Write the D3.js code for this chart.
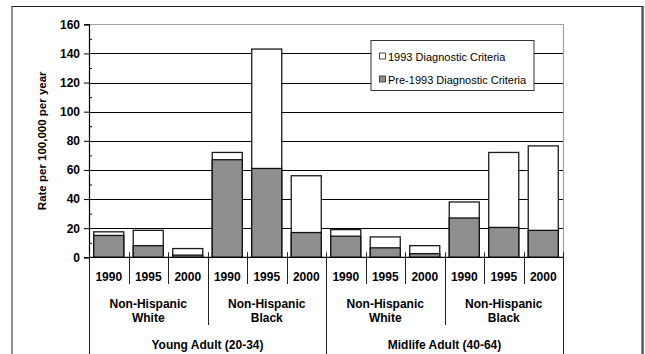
<!DOCTYPE html>
<html><head><meta charset="utf-8">
<script src="https://cdn.jsdelivr.net/npm/d3@7"></script>
<style>body{margin:0;background:#fff}svg{display:block}text{font-family:"Liberation Sans",Arial,sans-serif}</style>
</head><body>
<svg id="c" width="645" height="354"></svg>
<script>
const years = ["1990", "1995", "2000"];
const races = [["Non-Hispanic", "White"], ["Non-Hispanic", "Black"]];
const ages = ["Young Adult (20-34)", "Midlife Adult (40-64)"];
const criteria1993 = [17.5, 18.5, 6, 72, 143, 56, 19, 14, 8, 38, 72, 76.5];
const pre1993 = [15, 8, 1.5, 67, 61, 17, 14.5, 6.5, 2.5, 27, 20.5, 18.5];
const yTicks = [0, 20, 40, 60, 80, 100, 120, 140, 160];
const yMinor = [10, 30, 50, 70, 90, 110, 130, 150];
const legendLabels = ["1993 Diagnostic Criteria", "Pre-1993 Diagnostic Criteria"];
const yTitle = "Rate per 100,000 per year";

const svg = d3.select("#c");
const L = 89, R = 563, T = 24.3, B = 257.3;
const idx = d3.range(criteria1993.length);
const x = d3.scaleBand().domain(idx).range([L, R]).paddingInner(0.24).paddingOuter(0.12);
const y = d3.scaleLinear().domain([0, 160]).range([B, T]);
const step = x.step();
const FS = 12;

// outer frame
svg.append("rect").attr("x", 12).attr("y", 6.5).attr("width", 630).attr("height", 400)
  .attr("fill", "none").attr("stroke", "#222").attr("stroke-width", 1);
svg.append("line").attr("x1", 643).attr("x2", 643).attr("y1", 6).attr("y2", 354)
  .attr("stroke", "#444").attr("stroke-width", 1.5);

// gridlines
svg.append("g").selectAll("line").data(yTicks.filter(d => d > 0 && d < 160)).join("line")
  .attr("x1", L).attr("x2", R).attr("y1", d => Math.round(y(d)) + 0.5).attr("y2", d => Math.round(y(d)) + 0.5)
  .attr("stroke", "#000").attr("stroke-width", 1);
// plot border top & right (gray)
svg.append("path").attr("d", `M${L},${Math.round(T)+0.5}H${R+0.5}V${B}`)
  .attr("fill", "none").attr("stroke", "#a0a0a0").attr("stroke-width", 1.2);

// legend
const lg = svg.append("g");
lg.append("rect").attr("x", 371).attr("y", 40.5).attr("width", 163).attr("height", 50)
  .attr("fill", "#fff").attr("stroke", "#333").attr("stroke-width", 1);
legendLabels.forEach((t, i) => {
  const cy = [56.5, 79.5][i];
  lg.append("rect").attr("x", 379.5).attr("y", cy - 3.5).attr("width", 6).attr("height", 6)
    .attr("fill", i === 0 ? "#fff" : "#8f8f8f").attr("stroke", "#222").attr("stroke-width", 0.8);
  lg.append("text").attr("x", 388).attr("y", cy + 4).attr("font-size", 11).attr("fill", "#000").text(t);
});

// bars
const bars = svg.append("g");
bars.selectAll("rect.tot").data(idx).join("rect").attr("class", "tot")
  .attr("x", i => x(i)).attr("width", x.bandwidth())
  .attr("y", i => y(criteria1993[i])).attr("height", i => B - y(criteria1993[i]))
  .attr("fill", "#fff").attr("stroke", "#1a1a1a").attr("stroke-width", 1.3);
bars.selectAll("rect.pre").data(idx).join("rect").attr("class", "pre")
  .attr("x", i => x(i)).attr("width", x.bandwidth())
  .attr("y", i => y(pre1993[i])).attr("height", i => B - y(pre1993[i]))
  .attr("fill", "#8f8f8f").attr("stroke", "#111").attr("stroke-width", 1.3);

// y axis
const yAxis = d3.axisLeft(y).tickValues(yTicks).tickSize(5).tickPadding(4);
const ga = svg.append("g").attr("transform", `translate(${L},0)`).call(yAxis);
ga.select(".domain").attr("stroke", "#000").attr("stroke-width", 1.2);
ga.selectAll(".tick line").attr("stroke", "#000");
ga.selectAll(".tick text").attr("font-size", FS).attr("font-weight", "bold")
  .attr("font-family", "Liberation Sans, Arial, sans-serif").attr("fill", "#000");
const yAxisMinor = d3.axisRight(y).tickValues(yMinor).tickSize(3).tickFormat("");
const gm = svg.append("g").attr("transform", `translate(${L},0)`).call(yAxisMinor);
gm.select(".domain").remove();
gm.selectAll(".tick line").attr("stroke", "#000");

svg.append("text").attr("transform", `translate(46,${(T + B) / 2}) rotate(-90)`)
  .attr("text-anchor", "middle").attr("font-size", 11.5).attr("font-weight", "bold").text(yTitle);

// x axis line
svg.append("line").attr("x1", L).attr("x2", R).attr("y1", B).attr("y2", B)
  .attr("stroke", "#000").attr("stroke-width", 1.3);

// category separators
const sep = svg.append("g").attr("stroke", "#222").attr("stroke-width", 1);
d3.range(0, 13).forEach(k => {
  const xx = Math.round(L + k * step) + 0.5;
  let y2 = 284;
  if (k % 3 === 0) y2 = 325;
  if (k % 6 === 0) y2 = 354;
  sep.append("line").attr("x1", xx).attr("x2", xx).attr("y1", B - 5).attr("y2", y2);
});

// year labels
svg.append("g").selectAll("text").data(idx).join("text")
  .attr("x", i => x(i) + x.bandwidth() / 2).attr("y", 280.5)
  .attr("text-anchor", "middle").attr("font-size", FS).attr("font-weight", "bold")
  .text(i => years[i % 3]);

// race labels
d3.range(4).forEach(g => {
  const cx = L + (g * 3 + 1.5) * step;
  const r = races[g % 2];
  const t = svg.append("text").attr("x", cx).attr("y", 307.5).attr("text-anchor", "middle")
    .attr("font-size", FS).attr("font-weight", "bold");
  t.append("tspan").attr("x", cx).attr("dy", 0).text(r[0]);
  t.append("tspan").attr("x", cx).attr("dy", 14).text(r[1]);
});

// age labels
ages.forEach((a, g) => {
  svg.append("text").attr("x", L + (g * 6 + 3) * step).attr("y", 348.5).attr("text-anchor", "middle")
    .attr("font-size", FS).attr("font-weight", "bold").text(a);
});
</script>
</body></html>
